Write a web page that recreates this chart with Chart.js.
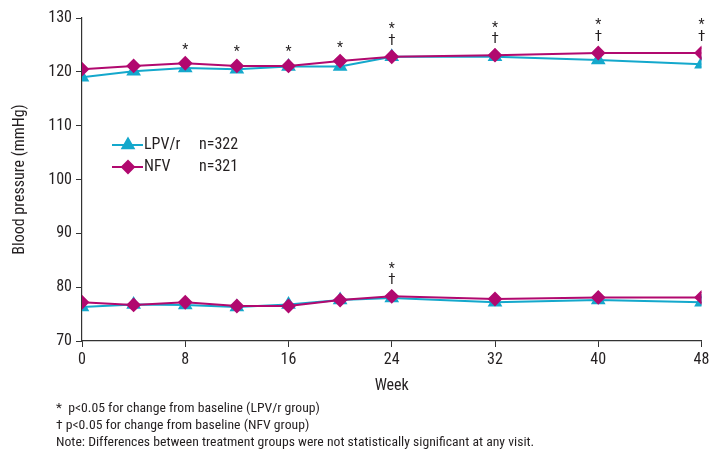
<!DOCTYPE html>
<html>
<head>
<meta charset="utf-8">
<script src="https://cdn.jsdelivr.net/npm/chart.js@4.4.1/dist/chart.umd.min.js"></script>
<style>
  html, body { margin: 0; padding: 0; background: #fff; }
  #wrap { width: 710px; height: 454px; position: relative; }
</style>
</head>
<body>
<div id="wrap"><canvas id="bpChart" width="710" height="454"></canvas></div>
<script>
// weeks of each visit
const weeks = [0, 4, 8, 12, 16, 20, 24, 32, 40, 48];

// systolic / diastolic blood pressure (mmHg)
const lpvSystolic  = [119.0, 120.1, 120.7, 120.5, 121.0, 121.0, 122.8, 122.8, 122.2, 121.4];
const nfvSystolic  = [120.5, 121.1, 121.6, 121.1, 121.1, 122.0, 122.8, 123.1, 123.5, 123.5];
const lpvDiastolic = [76.3, 76.8, 76.7, 76.3, 76.8, 77.6, 78.0, 77.2, 77.6, 77.2];
const nfvDiastolic = [77.2, 76.7, 77.2, 76.5, 76.5, 77.6, 78.3, 77.8, 78.1, 78.1];

// significance marks (weeks)
const starWeeks = [8, 12, 16, 20, 24, 32, 40, 48];
const daggerWeeks = [24, 32, 40, 48];
const diastolicMarks = [24];

const xTicks = [0, 8, 16, 24, 32, 40, 48];
const footnotes = [
    '*  p<0.05 for change from baseline (LPV/r group)',
    '\u2020 p<0.05 for change from baseline (NFV group)',
    'Note: Differences between treatment groups were not statistically significant at any visit.'
];

const CYAN = '#14a8cc';
const MAGENTA = '#b1096f';
const TEXT = '#231f20';
const FONT = '"Liberation Sans Narrow", "Roboto Condensed", Roboto, sans-serif';

const toPoints = vals => vals.map((v, i) => ({ x: weeks[i], y: v }));

const lpvStyle = {
    borderColor: CYAN, backgroundColor: CYAN, borderWidth: 2,
    pointStyle: 'triangle', pointRadius: 6.5, pointHoverRadius: 6.5, order: 2
};
const nfvStyle = {
    borderColor: MAGENTA, backgroundColor: MAGENTA, borderWidth: 2,
    pointStyle: 'rectRot', pointRadius: 6, pointHoverRadius: 6, order: 1
};

// text annotations, legend and footnotes
const extrasPlugin = {
    id: 'extras',
    afterDatasetsDraw(chart) {
        const ctx = chart.ctx;
        const xs = chart.scales.x, ys = chart.scales.y;
        ctx.save();
        ctx.fillStyle = TEXT;
        ctx.textAlign = 'center';
        ctx.textBaseline = 'middle';

        const marks = (px, base, dagger) => {
            ctx.font = '14px ' + FONT;
            if (dagger) {
                ctx.fillText('*', px, base - 27);
                ctx.font = '15px ' + FONT;
                ctx.fillText('\u2020', px, base - 16);
            } else {
                ctx.fillText('*', px, base - 13);
            }
        };

        // systolic marks
        starWeeks.forEach(w => {
            const i = weeks.indexOf(w);
            const top = Math.max(lpvSystolic[i], nfvSystolic[i]);
            marks(xs.getPixelForValue(w), ys.getPixelForValue(top), daggerWeeks.includes(w));
        });
        // diastolic marks
        diastolicMarks.forEach(w => {
            const i = weeks.indexOf(w);
            const top = Math.max(lpvDiastolic[i], nfvDiastolic[i]);
            marks(xs.getPixelForValue(w), ys.getPixelForValue(top), true);
        });

        // legend
        const legend = [
            { label: 'LPV/r', n: 'n=322', style: lpvStyle, y: 145 },
            { label: 'NFV', n: 'n=321', style: nfvStyle, y: 167 }
        ];
        legend.forEach(item => {
            ctx.strokeStyle = item.style.borderColor;
            ctx.fillStyle = item.style.backgroundColor;
            ctx.lineWidth = 2;
            ctx.beginPath();
            ctx.moveTo(112, item.y);
            ctx.lineTo(143, item.y);
            ctx.stroke();
            Chart.helpers.drawPoint(ctx, {
                pointStyle: item.style.pointStyle,
                radius: item.style.pointRadius,
                borderWidth: 1
            }, 128, item.y);
            ctx.fillStyle = TEXT;
            ctx.textAlign = 'left';
            ctx.font = '16px ' + FONT;
            ctx.fillText(item.label, 144, item.y);
            ctx.fillText(item.n, 199, item.y);
        });

        // axis titles
        ctx.textAlign = 'center';
        ctx.font = '16px ' + FONT;
        ctx.fillText('Week', (xs.left + xs.right) / 2, 386);
        ctx.save();
        ctx.translate(20, (ys.top + ys.bottom) / 2);
        ctx.rotate(-Math.PI / 2);
        ctx.fillText('Blood pressure (mmHg)', 0, 0);
        ctx.restore();

        // footnotes
        ctx.textAlign = 'left';
        ctx.font = '13.7px ' + FONT;
        ctx.fillText(footnotes[0], 56, 409);
        ctx.fillText(footnotes[1], 56, 426);
        ctx.fillText(footnotes[2], 56, 443);
        ctx.restore();
    }
};

new Chart(document.getElementById('bpChart'), {
    type: 'line',
    data: {
        datasets: [
            Object.assign({ label: 'LPV/r systolic', data: toPoints(lpvSystolic) }, lpvStyle),
            Object.assign({ label: 'NFV systolic', data: toPoints(nfvSystolic) }, nfvStyle),
            Object.assign({ label: 'LPV/r diastolic', data: toPoints(lpvDiastolic) }, lpvStyle),
            Object.assign({ label: 'NFV diastolic', data: toPoints(nfvDiastolic) }, nfvStyle)
        ]
    },
    options: {
        responsive: false,
        animation: false,
        layout: { padding: { top: 18, right: 8, left: 0, bottom: 0 } },
        plugins: { legend: { display: false }, tooltip: { enabled: false } },
        elements: { line: { tension: 0 } },
        scales: {
            x: {
                type: 'linear', min: 0, max: 48,
                afterBuildTicks: s => { s.ticks = xTicks.map(v => ({ value: v })); },
                afterFit: s => { s.height = 113; s.paddingRight = 0; s.paddingLeft = 0; },
                grid: { display: true, drawOnChartArea: false, color: '#333', tickLength: 6, tickWidth: 1 },
                border: { color: '#333', width: 1.2 },
                ticks: { color: TEXT, font: { size: 16, family: FONT }, padding: 3, maxRotation: 0 }
            },
            y: {
                min: 70, max: 130,
                afterFit: s => { s.width = 82; s.paddingTop = 0; s.paddingBottom = 0; },
                grid: { display: true, drawOnChartArea: false, color: '#333', tickLength: 6, tickWidth: 1 },
                border: { color: '#333', width: 1.2 },
                ticks: { stepSize: 10, color: TEXT, font: { size: 16, family: FONT }, padding: 4 }
            }
        }
    },
    plugins: [extrasPlugin]
});
</script>
</body>
</html>
